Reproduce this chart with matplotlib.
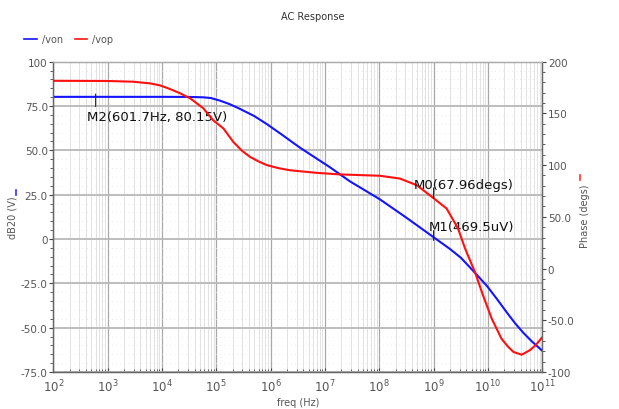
import numpy as np
import matplotlib
matplotlib.use("Agg")
import matplotlib.pyplot as plt
from matplotlib.lines import Line2D
from matplotlib.ticker import FixedLocator, FuncFormatter, LogLocator, NullFormatter, MultipleLocator

# ---------------- data ----------------
von_log_freq = [2.0, 3.0, 4.0, 4.5, 4.75, 4.9, 5.07, 5.25, 5.44, 5.7, 5.93, 6.2, 6.54, 7.09, 7.46,
                8.01, 8.5, 9.0, 9.3, 9.5, 9.73, 9.98, 10.17, 10.35, 10.5, 10.65, 10.8, 11.0]
von_db = [80.15, 80.15, 80.15, 80.1, 79.9, 79.5, 78.0, 76.0, 73.3, 69.3, 64.8, 59.0, 51.5, 40.5, 32.5,
          22.4, 12.0, 1.0, -5.6, -10.5, -18.0, -26.4, -34.0, -41.5, -47.5, -52.8, -57.5, -63.0]

vop_log_freq = [2.0, 3.0, 3.47, 3.78, 3.97, 4.15, 4.33, 4.52, 4.76, 4.94, 5.13, 5.31, 5.47, 5.62, 5.78,
                5.93, 6.15, 6.36, 6.85, 7.28, 8.01, 8.38, 8.69, 9.0, 9.24, 9.45, 9.58, 9.76, 9.91,
                10.07, 10.25, 10.37, 10.47, 10.62, 10.77, 10.88, 10.99]
vop_deg = [181.5, 181.3, 180.6, 179.0, 177.0, 173.5, 169.5, 164.5, 155.0, 143.5, 135.5, 122.6, 114.0,
           108.0, 103.5, 100.0, 97.0, 95.0, 92.5, 91.0, 89.7, 87.0, 80.6, 68.0, 58.0, 38.7, 19.3,
           -3.2, -25.9, -48.4, -67.8, -75.5, -80.6, -83.3, -79.0, -74.0, -67.0]

markers_text = ["M2(601.7Hz, 80.15V)", "M0(67.96degs)", "M1(469.5uV)"]
m2_freq, m2_val = 601.7, 80.15
m0_freq, m0_val = 1e9, 67.96
m1_freq, m1_val = 1e9, 0.8

left_ticks = [-75, -50, -25, 0, 25, 50, 75, 100]
right_ticks = [-100, -50, 0, 50, 100, 150, 200]
x_decades = list(range(2, 12))

# ---------------- figure ----------------
plt.rcParams['font.family'] = ['DejaVu Sans']
plt.rcParams['axes.unicode_minus'] = False

fig = plt.figure(figsize=(6.19, 4.10), dpi=100)
ax = fig.add_axes([0.0861, 0.0902, 0.7899, 0.757])
ax2 = ax.twinx()

grey = '#555555'

def fmt(v, pos=None):
    if abs(v) < 1e-9:
        return '0'
    if abs(v) >= 100:
        return '%d' % v
    return '%.1f' % v

ax.set_xscale('log')
ax.set_xlim(1e2, 1e11)
ax.set_ylim(-75, 100)
ax2.set_ylim(-100, 200)

ax.xaxis.set_major_locator(FixedLocator([10.0 ** d for d in x_decades]))
ax.xaxis.set_major_formatter(FuncFormatter(lambda v, p: r'$10^{%d}$' % round(np.log10(v))))
ax.xaxis.set_minor_locator(LogLocator(base=10, subs=np.arange(2, 10), numticks=100))
ax.xaxis.set_minor_formatter(NullFormatter())

ax.yaxis.set_major_locator(FixedLocator(left_ticks))
ax.yaxis.set_major_formatter(FuncFormatter(fmt))
ax.yaxis.set_minor_locator(MultipleLocator(5))
ax2.yaxis.set_major_locator(FixedLocator(right_ticks))
ax2.yaxis.set_major_formatter(FuncFormatter(fmt))
ax2.yaxis.set_minor_locator(MultipleLocator(10))

# grid
ax.grid(True, which='major', axis='x', color='#a8a8a8', lw=0.9)
ax.grid(True, which='minor', axis='x', color='#e2e2e2', lw=0.7)
ax.grid(True, which='major', axis='y', color='#b8b8b8', lw=1.3)
ax.grid(True, which='minor', axis='y', color='#e4e4e4', lw=0.6, ls=(0, (1, 4)))
ax.set_axisbelow(True)

for a in (ax, ax2):
    for s in a.spines.values():
        s.set_color('#666666')
        s.set_linewidth(0.9)
    a.spines['top'].set_color('#aaaaaa')

ax.tick_params(axis='both', which='major', labelsize=7.5, labelcolor=grey, color='#444444', length=3, width=0.8)
ax.tick_params(axis='both', which='minor', color='#444444', length=2, width=0.6)
ax.tick_params(axis='x', which='both', direction='in', pad=4)
ax.tick_params(axis='x', which='major', labelsize=8.5)
ax2.tick_params(axis='y', which='major', labelsize=7.5, labelcolor=grey, color='#444444', length=3, width=0.8, pad=1)
ax2.tick_params(axis='y', which='minor', color='#444444', length=2, width=0.6)
ax.tick_params(axis='y', which='major', pad=1)

# curves
l1, = ax.plot(10.0 ** np.array(von_log_freq), von_db, color='#1414ff', lw=1.5, label='/von', zorder=3)
l2, = ax2.plot(10.0 ** np.array(vop_log_freq), vop_deg, color='#ff1010', lw=1.5, label='/vop', zorder=3)

# markers
tick_kw = dict(arrowstyle='-', color='#222222', lw=0.8, shrinkA=0, shrinkB=0)
ax.annotate('', xy=(m2_freq, m2_val), xycoords='data', xytext=(0, -7), textcoords='offset points',
            arrowprops=tick_kw)
ax.annotate('', xy=(m2_freq, m2_val), xycoords='data', xytext=(0, 2), textcoords='offset points',
            arrowprops=tick_kw)
ax.annotate(markers_text[0], xy=(m2_freq, m2_val), xytext=(-6, -14), textcoords='offset points',
            ha='left', va='center', fontsize=9.5, color='#111111')

ax2.annotate('', xy=(m0_freq, m0_val), xycoords='data', xytext=(0, 7.5), textcoords='offset points',
             arrowprops=tick_kw)
ax2.annotate(markers_text[1], xy=(m0_freq, m0_val), xytext=(-14.5, 10), textcoords='offset points',
             ha='left', va='center', fontsize=9.5, color='#111111')

ax.annotate('', xy=(m1_freq, m1_val), xycoords='data', xytext=(0, 5), textcoords='offset points',
            arrowprops=tick_kw)
ax.annotate('', xy=(m1_freq, m1_val), xycoords='data', xytext=(0, -2), textcoords='offset points',
            arrowprops=tick_kw)
ax.annotate(markers_text[2], xy=(m1_freq, m1_val), xytext=(-3.6, 8.3), textcoords='offset points',
            ha='left', va='center', fontsize=9.5, color='#111111')

# labels
ax.set_xlabel('freq (Hz)', fontsize=7, color=grey, labelpad=2)
ax.set_ylabel('dB20 (V)', fontsize=7, color=grey)
ax.yaxis.set_label_coords(-0.074, 0.5)
ax2.set_ylabel('Phase (degs)', fontsize=7, color=grey)
ax2.yaxis.set_label_coords(1.077, 0.505)
# tiny series indicators at the end of the axis labels
fig.add_artist(Line2D([0.0265, 0.0265], [0.522, 0.534], transform=fig.transFigure,
                      color='#3030ff', lw=1.2))
fig.add_artist(Line2D([0.9375, 0.9375], [0.558, 0.570], transform=fig.transFigure,
                      color='#ff3030', lw=1.2))

fig.suptitle('AC Response', x=0.506, y=0.958, fontsize=7, color='#333333', va='center')

fig.legend(handles=[l1, l2], loc='center left', bbox_to_anchor=(0.025, 0.902), ncol=2,
           frameon=False, fontsize=7, handlelength=1.3, handletextpad=0.5, columnspacing=1.2,
           labelcolor=grey)
for h in fig.legends[0].legend_handles:
    h.set_linewidth(1.2)

fig.savefig('out.png', dpi=100)
